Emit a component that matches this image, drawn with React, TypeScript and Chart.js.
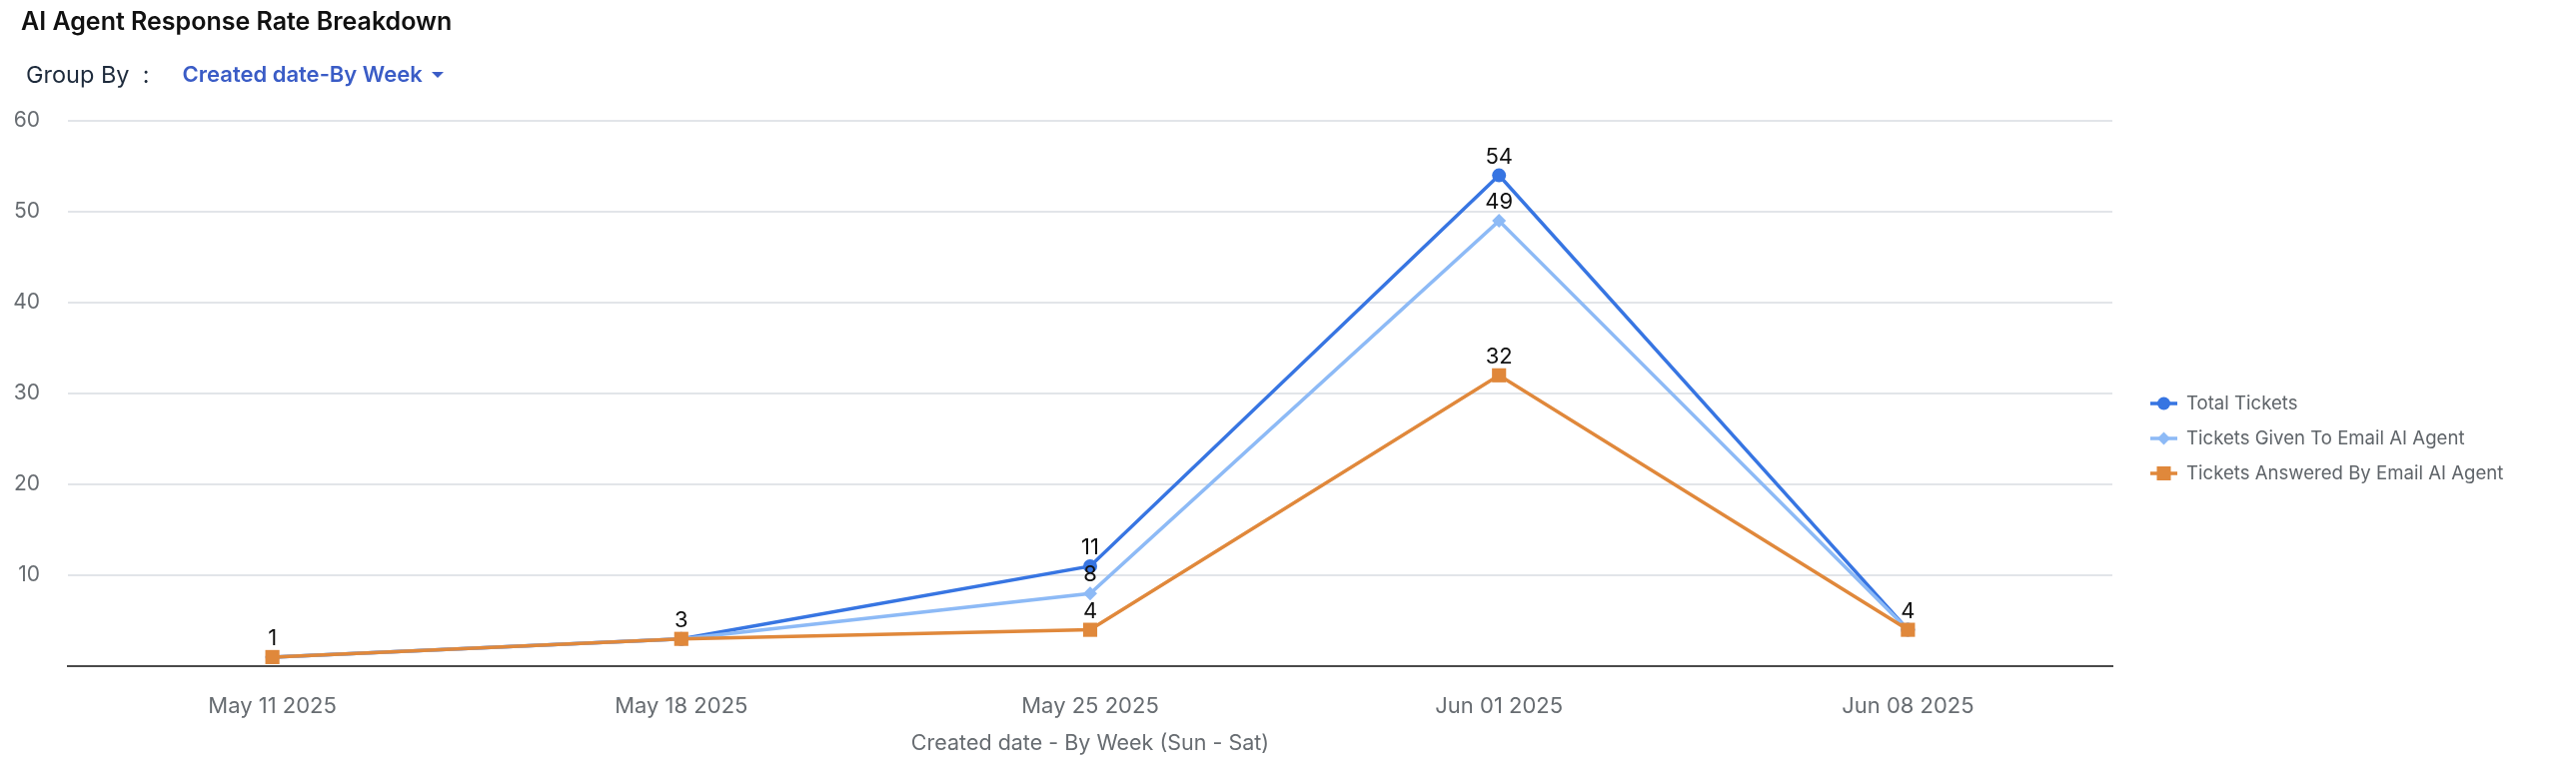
import React, { useEffect, useRef } from "react";
import { Chart, registerables } from "chart.js";

Chart.register(...registerables);

const categories = ["May 11 2025", "May 18 2025", "May 25 2025", "Jun 01 2025", "Jun 08 2025"];
const totalTickets = [1, 3, 11, 54, 4];
const givenToAgent = [1, 3, 8, 49, 4];
const answeredByAgent = [1, 3, 4, 32, 4];
const seriesNames = [
  "Total Tickets",
  "Tickets Given To Email AI Agent",
  "Tickets Answered By Email AI Agent",
];
const seriesColors = ["#3775e2", "#8dbaf6", "#e0883b"];
const seriesShapes = ["circle", "rectRot", "rect"];
const yMin = 0;
const yMax = 60;
const yStep = 10;
const xTitle = "Created date - By Week (Sun - Sat)";
const chartTitle = "AI Agent Response Rate Breakdown";

const FONT = "Inter, 'Liberation Sans', Arial, sans-serif";

function drawMarker(ctx: CanvasRenderingContext2D, shape: string, x: number, y: number, color: string) {
  ctx.save();
  ctx.fillStyle = color;
  ctx.beginPath();
  if (shape === "circle") {
    ctx.arc(x, y, 6.5, 0, Math.PI * 2);
  } else if (shape === "rectRot") {
    ctx.moveTo(x, y - 6.5);
    ctx.lineTo(x + 6.5, y);
    ctx.lineTo(x, y + 6.5);
    ctx.lineTo(x - 6.5, y);
    ctx.closePath();
  } else {
    ctx.rect(x - 7, y - 7, 14, 14);
  }
  ctx.fill();
  ctx.restore();
}

const legendPlugin = {
  id: "customLegend",
  afterDraw(chart: any) {
    const { ctx, chartArea } = chart;
    const x0 = chartArea.right + 38;
    const midY = (chartArea.top + chartArea.bottom) / 2 + 45;
    ctx.save();
    seriesNames.forEach((name, i) => {
      const y = midY + (i - 1) * 35;
      ctx.strokeStyle = seriesColors[i];
      ctx.lineWidth = 3.5;
      ctx.beginPath();
      ctx.moveTo(x0, y);
      ctx.lineTo(x0 + 27, y);
      ctx.stroke();
      drawMarker(ctx, seriesShapes[i], x0 + 13.5, y, seriesColors[i]);
      ctx.fillStyle = "#5f6469";
      ctx.font = `18.6px ${FONT}`;
      ctx.textAlign = "left";
      ctx.textBaseline = "middle";
      ctx.fillText(name, x0 + 36, y);
    });
    ctx.restore();
  },
};

const dataLabelPlugin = {
  id: "valueLabels",
  afterDatasetsDraw(chart: any) {
    const { ctx } = chart;
    const seen = new Set<string>();
    ctx.save();
    ctx.font = `22px ${FONT}`;
    ctx.fillStyle = "#111111";
    ctx.textAlign = "center";
    ctx.textBaseline = "alphabetic";
    chart.data.datasets.forEach((ds: any, di: number) => {
      const meta = chart.getDatasetMeta(di);
      meta.data.forEach((pt: any, i: number) => {
        const v = ds.data[i];
        const key = `${i}-${v}`;
        if (seen.has(key)) return;
        seen.add(key);
        ctx.fillText(String(v), pt.x, pt.y - 12);
      });
    });
    ctx.restore();
  },
};

export default function App() {
  const canvasRef = useRef<HTMLCanvasElement | null>(null);

  useEffect(() => {
    if (!canvasRef.current) return;
    Chart.defaults.font.family = FONT;
    const series = [totalTickets, givenToAgent, answeredByAgent];
    const chart = new Chart(canvasRef.current, {
      type: "line",
      data: {
        labels: categories,
        datasets: series.map((d, i) => ({
          label: seriesNames[i],
          data: d,
          borderColor: seriesColors[i],
          backgroundColor: seriesColors[i],
          borderWidth: 3.5,
          pointStyle: seriesShapes[i] as any,
          pointRadius: i === 2 ? 10 : 7,
          pointHoverRadius: i === 2 ? 10 : 7,
          pointBorderWidth: 0,
          tension: 0,
          fill: false,
          order: 2 - i,
        })),
      },
      options: {
        responsive: false,
        maintainAspectRatio: false,
        animation: false,
        events: [],
        layout: { padding: { top: 121, right: 464, bottom: 0, left: 0 } },
        plugins: {
          legend: { display: false },
          tooltip: { enabled: false },
          title: { display: false },
        },
        scales: {
          x: {
            offset: true,
            grid: { display: false, drawTicks: false },
            border: { display: true, color: "#4a4a4a", width: 2 },
            ticks: {
              color: "#676c71",
              font: { size: 22 },
              padding: 27,
              maxRotation: 0,
            },
            title: {
              display: true,
              text: xTitle,
              color: "#676c71",
              font: { size: 21.5 },
              padding: { top: 0, bottom: 27 },
            },
            afterFit(scale: any) {
              scale.height = 117;
            },
          },
          y: {
            min: yMin,
            max: yMax,
            grid: { color: "#e2e5e9", lineWidth: 2, drawTicks: false },
            border: { display: false },
            ticks: {
              stepSize: yStep,
              color: "#676c71",
              font: { size: 21 },
              padding: 28,
              callback: (v: any) => (v === 0 ? "" : String(v)),
            },
            afterFit(scale: any) {
              scale.width = 68;
            },
          },
        },
      },
      plugins: [legendPlugin, dataLabelPlugin],
    });
    return () => chart.destroy();
  }, []);

  return (
    <div style={{ position: "fixed", left: 0, top: 0, width: 2578, height: 784, background: "#fff", fontFamily: FONT }}>
      <canvas ref={canvasRef} width={2578} height={784} style={{ position: "absolute", left: 0, top: 0, width: 2578, height: 784 }} />
      <div style={{ position: "absolute", left: 21, top: 5, fontSize: 25, fontWeight: 600, color: "#111", lineHeight: "32px", whiteSpace: "nowrap" }}>
        {chartTitle}
      </div>
      <div style={{ position: "absolute", left: 26, top: 58, height: 32, display: "flex", alignItems: "center", whiteSpace: "nowrap" }}>
        <span style={{ fontSize: 23.5, color: "#1e2b3c" }}>Group By&nbsp;&nbsp;:</span>
        <span style={{ fontSize: 22, fontWeight: 600, color: "#3a5cc6", marginLeft: 33 }}>Created date-By Week</span>
        <span style={{ display: "inline-block", marginLeft: 9, marginTop: 2, width: 0, height: 0, borderLeft: "6px solid transparent", borderRight: "6px solid transparent", borderTop: "6px solid #3a5cc6" }} />
      </div>
    </div>
  );
}
